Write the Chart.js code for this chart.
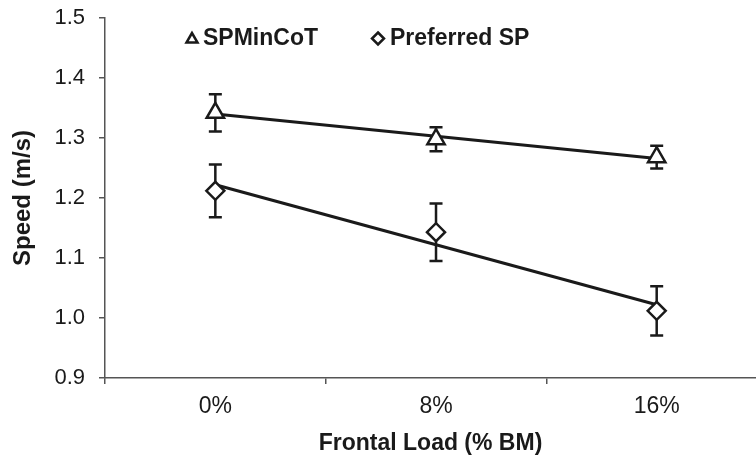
<!DOCTYPE html>
<html>
<head>
<meta charset="utf-8">
<script src="https://cdn.jsdelivr.net/npm/chart.js@4.4.0/dist/chart.umd.min.js"></script>
<style>
  html, body { margin: 0; padding: 0; background: #fff; }
  #wrap { width: 756px; height: 460px; }
</style>
</head>
<body>
<div id="wrap"><canvas id="chart" width="756" height="460"></canvas></div>
<script>
// Values
const loadLabels = ['0%', '8%', '16%'];
const minCotMean = [1.342, 1.298, 1.268];
const minCotSD = [0.031, 0.020, 0.019];
const prefMean = [1.212, 1.143, 1.012];
const prefSD = [0.044, 0.048, 0.041];
// trend line end points (at 0% and 16%)
const minCotTrend = [1.340, 1.266];
const prefTrend = [1.222, 1.022];

const INK = '#1a1a1a';
const AXIS = '#555';
const FONT = '"Liberation Sans", Arial, sans-serif';

function toPoints(arr) {
    return arr.map(function(v, i) { return { x: i, y: v }; });
}
function trendPoints(ends) {
    return [{ x: 0, y: ends[0] }, { x: loadLabels.length - 1, y: ends[1] }];
}

// Error bars drawn under the markers
const errorBars = {
    id: 'errorBars',
    beforeDatasetsDraw(chart) {
        const ctx = chart.ctx;
        const xs = chart.scales.x;
        const ys = chart.scales.y;
        ctx.save();
        ctx.strokeStyle = INK;
        ctx.lineWidth = 2.5;
        [[minCotMean, minCotSD], [prefMean, prefSD]].forEach(function(pair) {
            const mean = pair[0], sd = pair[1];
            mean.forEach(function(v, i) {
                const x = xs.getPixelForValue(i);
                const top = ys.getPixelForValue(v + sd[i]);
                const bot = ys.getPixelForValue(v - sd[i]);
                ctx.beginPath();
                ctx.moveTo(x, top); ctx.lineTo(x, bot);
                ctx.moveTo(x - 6.5, top); ctx.lineTo(x + 6.5, top);
                ctx.moveTo(x - 6.5, bot); ctx.lineTo(x + 6.5, bot);
                ctx.stroke();
            });
        });
        ctx.restore();
    }
};

// Legend inside the plot area, like the original
const insideLegend = {
    id: 'insideLegend',
    afterDraw(chart) {
        const ctx = chart.ctx;
        const sets = chart.data.datasets;
        ctx.save();
        ctx.font = 'bold 23px ' + FONT;
        ctx.fillStyle = INK;
        ctx.strokeStyle = INK;
        ctx.lineWidth = 2.5;
        ctx.textBaseline = 'middle';

        // triangle marker
        ctx.beginPath();
        ctx.moveTo(192, 33);
        ctx.lineTo(186.5, 42.5);
        ctx.lineTo(197.5, 42.5);
        ctx.closePath();
        ctx.stroke();
        ctx.fillText(sets[0].label, 203, 39);

        // diamond marker
        ctx.beginPath();
        ctx.moveTo(378, 32.5);
        ctx.lineTo(384, 38.5);
        ctx.lineTo(378, 44.5);
        ctx.lineTo(372, 38.5);
        ctx.closePath();
        ctx.stroke();
        ctx.fillText(sets[1].label, 390, 39);
        ctx.restore();
    }
};

const ctx = document.getElementById('chart');
new Chart(ctx, {
    type: 'scatter',
    data: {
        datasets: [
            {
                label: 'SPMinCoT',
                data: toPoints(minCotMean),
                pointStyle: 'triangle',
                pointRadius: 10,
                pointBorderWidth: 2.5,
                pointBackgroundColor: '#fff',
                pointBorderColor: INK,
                showLine: false
            },
            {
                label: 'Preferred SP',
                data: toPoints(prefMean),
                pointStyle: 'rectRot',
                pointRadius: 9,
                pointBorderWidth: 2.5,
                pointBackgroundColor: '#fff',
                pointBorderColor: INK,
                showLine: false
            },
            {
                label: 'SPMinCoT trend',
                data: trendPoints(minCotTrend),
                showLine: true,
                borderColor: INK,
                borderWidth: 3,
                pointRadius: 0
            },
            {
                label: 'Preferred SP trend',
                data: trendPoints(prefTrend),
                showLine: true,
                borderColor: INK,
                borderWidth: 3,
                pointRadius: 0
            }
        ]
    },
    options: {
        responsive: false,
        animation: false,
        layout: {
            autoPadding: false,
            padding: { top: 18, right: 0, left: 0, bottom: 0 }
        },
        plugins: {
            legend: { display: false },
            tooltip: { enabled: false }
        },
        scales: {
            x: {
                type: 'linear',
                position: 'bottom',
                min: -0.5,
                max: 2.45,
                afterBuildTicks: function(scale) {
                    const t = [];
                    for (let v = -0.5; v <= loadLabels.length - 1; v += 0.5) {
                        t.push({ value: v });
                    }
                    scale.ticks = t;
                },
                afterFit: function(scale) {
                    scale.height = 82;
                    scale.paddingLeft = 0;
                    scale.paddingRight = 0;
                },
                ticks: {
                    autoSkip: false,
                    maxRotation: 0,
                    padding: 9,
                    color: INK,
                    font: { family: FONT, size: 23 },
                    callback: function(value) {
                        return Number.isInteger(value) ? loadLabels[value] : '';
                    }
                },
                grid: {
                    drawOnChartArea: false,
                    tickLength: 6,
                    lineWidth: 1.5,
                    tickColor: function(c) {
                        return (c.tick && Number.isInteger(c.tick.value)) ? 'rgba(0,0,0,0)' : AXIS;
                    }
                },
                border: { color: AXIS, width: 1.5 },
                title: {
                    display: true,
                    text: 'Frontal Load (% BM)',
                    color: INK,
                    font: { family: FONT, size: 23, weight: 'bold' },
                    padding: { top: 0, bottom: 3 }
                }
            },
            y: {
                min: 0.9,
                max: 1.5,
                afterFit: function(scale) {
                    scale.width = 105;
                    scale.paddingTop = 0;
                    scale.paddingBottom = 0;
                },
                ticks: {
                    stepSize: 0.1,
                    padding: 14,
                    color: INK,
                    font: { family: FONT, size: 22 },
                    callback: function(value) { return value.toFixed(1); }
                },
                grid: {
                    drawOnChartArea: false,
                    tickLength: 6,
                    lineWidth: 1.5,
                    color: AXIS
                },
                border: { color: AXIS, width: 1.5 },
                title: {
                    display: true,
                    text: 'Speed (m/s)',
                    color: INK,
                    font: { family: FONT, size: 24, weight: 'bold' },
                    padding: { top: 9, bottom: 0 }
                }
            }
        }
    },
    plugins: [errorBars, insideLegend]
});
</script>
</body>
</html>
